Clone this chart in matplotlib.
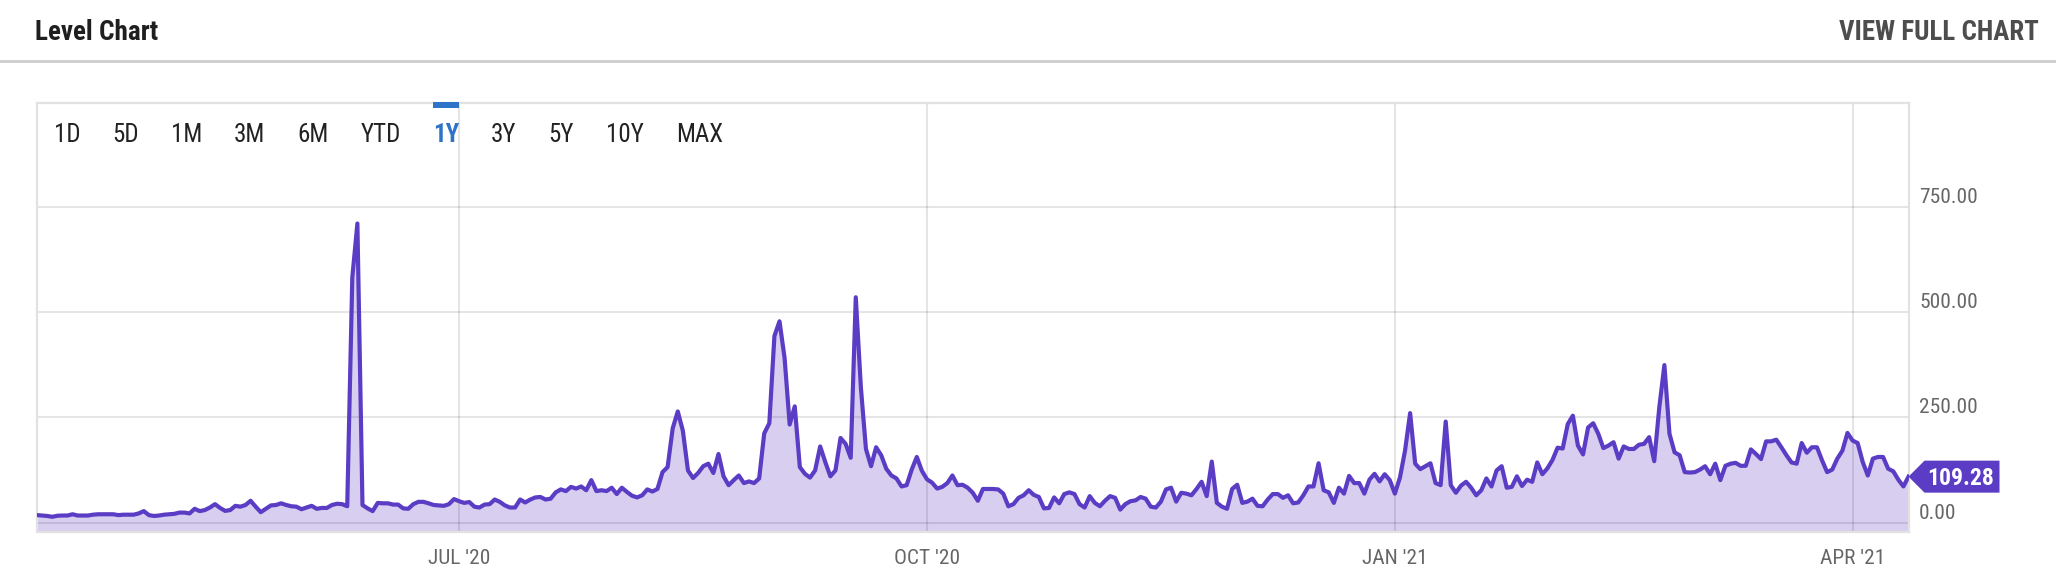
import matplotlib
matplotlib.use("Agg")
import matplotlib.dates as mdates
import matplotlib.pyplot as plt
import matplotlib.transforms as mtransforms
from matplotlib import font_manager
from matplotlib.lines import Line2D
from matplotlib.patches import Polygon, Rectangle
import pandas as pd

# daily level readings, one value per day from start_date
start_date = "2020-04-09"
levels = [
    18, 17, 16, 14, 16.5, 17, 17, 20, 17, 17, 17, 19, 20, 20, 20, 20, 18, 19, 19, 19,
    22, 27.5, 18, 16, 17, 19, 20, 21, 24, 24, 22, 33, 27.5, 30, 36, 44, 35, 28, 30, 40,
    38, 42, 52, 38, 25, 33, 41, 42, 46, 42, 39, 38, 32, 36, 40, 33, 35, 35, 42, 45,
    44, 39, 582, 710, 42, 34, 27.5, 47, 46, 46, 43, 43, 34, 33, 44, 49.5, 49.5, 46, 42, 41,
    40, 44, 56, 51, 47, 49, 38, 36, 43, 44, 55, 49.5, 41, 36, 36, 55, 48, 55, 60, 61,
    55, 57, 72, 79, 75, 85, 81, 86, 77, 101, 75, 77, 75, 83, 68, 83, 73, 64, 60, 65,
    79, 74, 80, 120, 132, 224, 264, 218, 124, 106, 118, 134, 140, 118, 163, 110, 89, 101, 112, 94,
    98, 94, 105, 212, 236, 443, 478, 391, 233, 276, 132, 116, 107, 124, 181, 144, 110, 124, 201, 187,
    154, 535, 321, 175, 134, 179, 160, 128, 112, 105, 86, 89, 126, 156, 123, 103, 95, 81, 85, 94,
    112, 89, 90, 83, 71, 52, 80, 80, 80, 79, 69, 39, 44, 59, 65, 77, 66, 61, 34, 35,
    60, 46, 68, 72, 68, 44, 36, 63, 47, 39, 52, 63, 59, 31, 44, 51, 53, 61, 57, 38,
    36, 50, 79, 83, 50, 71, 69, 65, 80, 97, 63, 145, 47, 38, 33, 80, 90, 47, 50, 57,
    40, 39, 55, 68, 68, 59, 65, 46, 48, 65, 86, 86, 141, 77, 72, 47, 83, 69, 111, 94,
    94, 69, 102, 116, 98, 115, 101, 69, 107, 171, 260, 140, 127, 134, 141, 94, 89, 240, 89, 71,
    88, 97, 83, 65, 77, 105, 86, 124, 134, 83, 85, 110, 87, 102, 97, 143, 115, 129, 149, 178,
    176, 234, 254, 183, 162, 226, 236, 211, 177, 183, 191, 152, 181, 175, 175, 185, 187, 203, 146, 274,
    374, 211, 167, 160, 120, 119, 120, 126, 134, 115, 140, 101, 135, 140, 142, 135, 135, 174, 163, 151,
    193, 193, 197, 179, 160, 143, 140, 189, 166, 179, 179, 148, 120, 126, 152, 171, 213, 195, 189, 144,
    112, 152, 156, 156, 128, 122, 102, 86, 109.28,
]
ranges = ["1D", "5D", "1M", "3M", "6M", "YTD", "1Y", "3Y", "5Y", "10Y", "MAX"]
active_range = "1Y"
month_ticks = ["2020-07-01", "2020-10-01", "2021-01-01", "2021-04-01"]
month_labels = ["JUL '20", "OCT '20", "JAN '21", "APR '21"]
y_ticks = [0, 250, 500, 750]

LINE = "#5b3cc4"
FILL = "#d7cef0"
BLUE = "#2e73c7"

names = {f.name for f in font_manager.fontManager.ttflist}
if "Roboto Condensed" in names:
    FONT, k = "Roboto Condensed", 1.0
elif "Liberation Sans Narrow" in names:
    FONT, k = "Liberation Sans Narrow", 1.0
else:
    FONT, k = "Roboto", 0.88
plt.rcParams["font.family"] = [FONT, "DejaVu Sans"]

W, H, DPI = 2056, 584, 100
fig = plt.figure(figsize=(W / DPI, H / DPI), dpi=DPI)
# pixel coordinates with origin at the top left
px = mtransforms.Affine2D().scale(1 / W, -1 / H).translate(0, 1) + fig.transFigure

fig.text(35, 40.5, "Level Chart", transform=px, fontsize=19.5 * k,
         fontweight="bold", color="#1f1f1f", va="baseline")
fig.text(2039, 40.5, "VIEW FULL CHART", transform=px, fontsize=19.4 * k,
         fontweight="bold", color="#4d4d4d", ha="right", va="baseline")
fig.add_artist(Line2D([0, W], [61, 61], transform=px, color="#cccccc", lw=2))

ax = fig.add_axes([37 / W, (H - 532.3) / H, (1908.5 - 37) / W, (532.3 - 103) / H])
dates = pd.date_range(start_date, periods=len(levels), freq="D")
y_min, y_max = -22.8, 996

ax.fill_between(dates, levels, y_min, color=FILL, lw=0, zorder=1)
ax.plot(dates, levels, color=LINE, lw=3.0, zorder=3, solid_joinstyle="round")
ax.set_xlim(dates[0], dates[-1])
ax.set_ylim(y_min, y_max)

ax.set_xticks(pd.to_datetime(month_ticks), labels=month_labels)
ax.yaxis.tick_right()
ax.set_yticks(y_ticks, labels=[f"{v:.2f}" for v in y_ticks], va="bottom")
ax.tick_params(length=0, labelsize=15.4 * k, labelcolor="#666666")
ax.tick_params(axis="x", pad=12)
ax.tick_params(axis="y", pad=7.6)
ax.grid(True, color="black", alpha=0.1, lw=1.5)
for s in ax.spines.values():
    s.set_color("#e2e2e2")
    s.set_linewidth(1.6)

# last value badge
last_x = mdates.date2num(dates[-1])
last_y = levels[-1]
badge_at = mtransforms.ScaledTranslation(last_x, last_y, ax.transData)
badge = Polygon([(0, 0), (16, 16), (91, 16), (91, -16), (16, -16)], closed=True,
                transform=badge_at, facecolor=LINE, edgecolor="none",
                clip_on=False, zorder=5)
ax.add_artist(badge)
ax.text(last_x, last_y, f"{last_y:.2f}",
        transform=mtransforms.offset_copy(ax.transData, fig=fig, x=52, y=-8, units="dots"),
        color="white", fontsize=17 * k, fontweight="bold", ha="center",
        va="baseline", clip_on=False, zorder=6)

# range selector
renderer = fig.canvas.get_renderer()
x = 53.6
for r in ranges:
    on = r == active_range
    t = fig.text(x, 141.5, r, transform=px, fontsize=18 * k, va="baseline",
                 color=BLUE if on else "#222222", fontweight="bold" if on else "normal")
    w = t.get_window_extent(renderer).width
    if on:
        fig.add_artist(Rectangle((x + w / 2 - 13, 102), 26, 6, transform=px,
                                 facecolor=BLUE, edgecolor="none"))
    x += w + 32

fig.savefig("out.png", dpi=DPI, facecolor="white")
